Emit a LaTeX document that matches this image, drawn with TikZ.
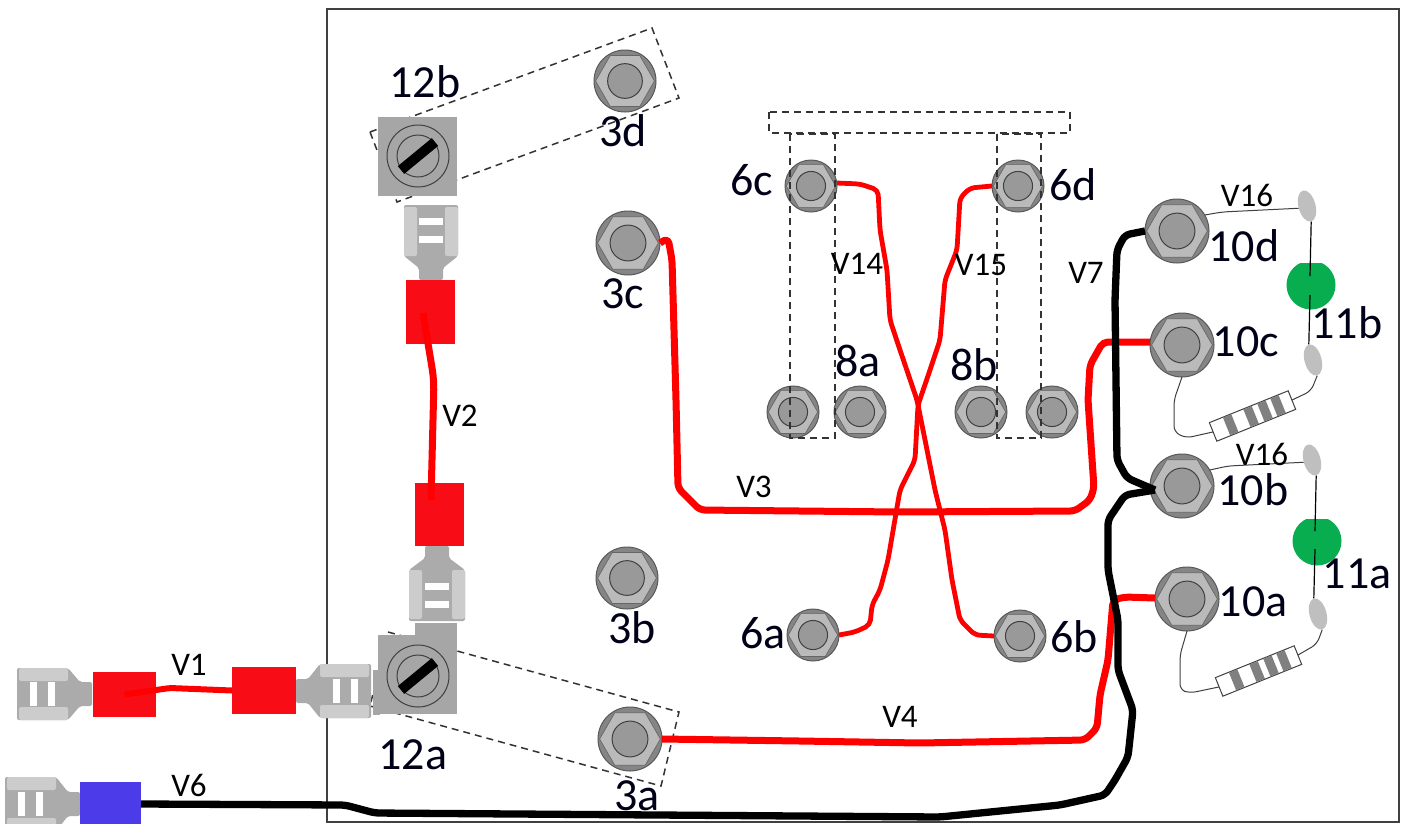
\documentclass[tikz,border=0pt]{standalone}
\usepackage{fontspec}
\setmainfont{Carlito}
\tikzset{
  x=1pt,y=-1pt,
  bigtxt/.style={font=\fontsize{46}{46}\selectfont,text=black!90!blue,inner sep=0pt},
  smalltxt/.style={font=\fontsize{33}{33}\selectfont,inner sep=0pt},
  boltbody/.style={circle,draw=black!65,fill=black!48,line width=1pt,inner sep=0pt,outer sep=0pt},
  redwire/.style={draw=red,line width=7pt,rounded corners=5pt,line join=round},
  thinred/.style={draw=red,line width=4.8pt,rounded corners=5pt,line join=round},
  blackwire/.style={draw=black,line width=7.3pt,rounded corners=5pt,line join=round},
  leadwire/.style={draw=black!75,line width=1pt,rounded corners=6pt},
  legwire/.style={draw=black,line width=1.2pt},
  dashbox/.style={draw=black!80,line width=1.5pt,dash pattern=on 7pt off 5pt},
  crimp/.style={rectangle,inner sep=0pt,outer sep=0pt,fill=#1},
  lens/.style={ellipse,fill=black!25,inner sep=0pt,minimum width=17pt,minimum height=32pt},
  screwsq/.style={rectangle,fill=black!35,inner sep=0pt,minimum width=79pt,minimum height=79pt},
}
\definecolor{crimpred}{HTML}{F80D16}
\definecolor{crimpblue}{HTML}{4B3BE8}
\definecolor{ledgreen}{HTML}{07AD4E}
\usetikzlibrary{shapes.geometric,calc}
\newcommand{\boltat}[4]{% name, x, y, r
  \node[boltbody,minimum size=#4*2pt] (#1) at (#2,#3) {};
  \draw[fill=black!27,draw=black!60,line width=.7pt]
    (#2,#3) ++(0:#4*.95) -- ++(120:#4*.95) -- ++(180:#4*.95) -- ++(240:#4*.95) -- ++(300:#4*.95) -- ++(0:#4*.95) -- cycle;
  \draw[fill=black!40,draw=black!75,line width=1pt] (#2,#3) circle[radius=#4*.56];
}
\newcommand{\spadeat}[4]{% x, y, angle, halfwidth
  \begin{scope}[shift={(#1,#2)},rotate=#3]
    \fill[black!33,rounded corners=2pt] (0,-12) -- (12,-12) -- (24,-#4) -- (75,-#4) -- (75,#4) -- (24,#4) -- (12,12) -- (0,12) -- cycle;
    \fill[black!20,rounded corners=2pt] (24,-#4) rectangle (73,-#4+13);
    \fill[black!20,rounded corners=2pt] (24,#4) rectangle (73,#4-13);
    \fill[white] (37,-12) rectangle (44,12);
    \fill[white] (55,-12) rectangle (62,12);
  \end{scope}
}
\newcommand{\screwat}[2]{% x, y
  \draw[black!75,line width=1pt] (#1,#2) circle[radius=31];
  \draw[black!75,line width=1pt] (#1,#2) circle[radius=21];
  \draw[black,line width=10pt] ($(#1,#2)+(-17,14)$) -- ($(#1,#2)+(17,-14)$);
}
\newcommand{\resistorat}[3]{% name, x, y
  \node[rectangle,rotate=22,fill=white,draw=black!75,line width=1pt,minimum width=85pt,minimum height=20pt,inner sep=0pt,outer sep=0pt] (#1) at (#2,#3) {};
  \begin{scope}[shift={(#2,#3)},rotate=22]
    \foreach \u in {-23.5,-1.5,13.5,27.5}{
      \fill[black!50] (\u-4.5,-9.5) rectangle (\u+4.5,9.5);
    }
  \end{scope}
}
\newcommand{\ledat}[2]{% x, y
  \begin{scope}
    \clip (#1-30,#2-22) rectangle (#1+30,#2+30);
    \fill[ledgreen] (#1,#2) circle[radius=24.5];
  \end{scope}
}
\begin{document}
\begin{tikzpicture}
\useasboundingbox (0,0) rectangle (1406,823);
\clip (0,0) rectangle (1406,823);
\fill[white] (0,0) rectangle (1406,823);
% board
\node[rectangle,draw=black!75,line width=1.2pt,inner sep=0pt,minimum width=1072pt,minimum height=813pt] (board) at (863,415.5) {};
% dashed brackets behind the screw terminals
\draw[dashbox] (370,132) -- (652,28) -- (679,98) -- (397,202) -- cycle;
\draw[dashbox] (388,632) -- (679,712) -- (661,786) -- (370,706) -- cycle;
% spade terminals
\spadeat{92}{694}{180}{26}
\spadeat{296}{691}{0}{27}
\spadeat{80}{804}{180}{27}
\spadeat{431}{280}{90}{27}
\spadeat{437}{546}{-90}{28}
% screw terminal blocks
\fill[black!35] (373,670) rectangle (380,715);
\fill[black!35] (415,623) rectangle (457,640);
\node[screwsq] (s12b) at (417.5,156) {};
\node[screwsq] (s12a) at (417.5,674) {};
\screwat{418}{156}
\screwat{418}{676}
% crimps
\node[crimp=crimpred,minimum width=63pt,minimum height=45pt] (c1a) at (124.5,694.5) {};
\node[crimp=crimpred,minimum width=64pt,minimum height=47pt] (c1b) at (264,690.5) {};
\node[crimp=crimpblue,minimum width=61pt,minimum height=44pt] (c6) at (110.5,804) {};
\node[crimp=crimpred,minimum width=49pt,minimum height=64pt] (c2a) at (430.5,312) {};
\node[crimp=crimpred,minimum width=49pt,minimum height=63pt] (c2b) at (439,514.5) {};
% bolts
\boltat{b3d}{625}{81}{31}
\boltat{b3c}{628}{243}{32}
\boltat{b3b}{627}{578}{31}
\boltat{b3a}{630}{739}{32}
\boltat{b6c}{811}{186}{26}
\boltat{b6d}{1018}{186}{26}
\boltat{b6a}{813}{635}{26}
\boltat{b6b}{1020}{636}{26}
\boltat{b8a}{793}{412}{26}
\boltat{b8b}{860}{412}{26}
\boltat{b8c}{981}{412}{26}
\boltat{b8d}{1052}{412}{26}
\boltat{b10d}{1177}{231}{32}
\boltat{b10c}{1182}{345}{32}
\boltat{b10b}{1182}{486}{32}
\boltat{b10a}{1187}{599}{32}
% dashed frames
\draw[dashbox] (769,112) rectangle (1070,133);
\draw[dashbox] (790,134) rectangle (835,438);
\draw[dashbox] (997,134) rectangle (1041,438);
% LEDs
\ledat{1311}{285}
\ledat{1317}{541}
\node[lens,rotate=15] (l1) at (1307,206) {};
\node[lens,rotate=15] (l2) at (1313,360) {};
\node[lens,rotate=15] (l3) at (1312,460) {};
\node[lens,rotate=15] (l4) at (1318,614) {};
\draw[legwire] (l1.south) -- (1310,276);
\draw[legwire] (1310,295) -- (l2.north);
\draw[legwire] (l3.south) -- (1315,531);
\draw[legwire] (1315,549) -- (l4.north);
% resistors
\resistorat{r1}{1252.5}{416}
\resistorat{r2}{1258.5}{671}
\draw[leadwire] (b10c.south) -- (1174,400) -- (1174,432) -- (1186,438) -- (r1.west);
\draw[leadwire] (r1.east) -- (1311,391) -- (l2.south);
\draw[leadwire] (b10a.south) -- (1180,655) -- (1180,690) -- (1190,693) -- (r2.west);
\draw[leadwire] (r2.east) -- (1317,644) -- (l4.south);
\draw[leadwire] (b10d.30) -- (1222,212) -- (l1.west);
\draw[leadwire] (b10b.30) -- (1228,466) -- (l3.west);
% wires
\coordinate (j) at (1155,490);
\draw[thinred,rounded corners=3pt,line width=6pt] (c1a.center) -- (170,688) -- (c1b.west);
\draw[redwire,rounded corners=10pt] (423,313) -- (434,380) -- (431,500);
\draw[redwire] (b3c.east) -- (668,238) -- (672,260) -- (676,400) -- (678,488) -- (700,510) -- (900,512) -- (1075,511) -- (1090,500) -- (1094,488) -- (1088,400) -- (1090,365) -- (1103,342) -- (b10c.west |- 0,342);
\draw[redwire] (b3a.east) -- (800,741) -- (920,743) -- (1085,740) -- (1097,728) -- (1100,695) -- (1108,660) -- (1113,600) -- (1125,597) -- (b10a.west |- 0,598);
\draw[thinred] (b6c.east |- 0,183) -- (860,184) -- (878,190) -- (880,230) -- (887,270) -- (890,320) -- (900,350) -- (917,400) -- (925,440) -- (935,490) -- (945,530) -- (952,580) -- (960,620) -- (975,635) -- (b6b.west);
\draw[thinred] (b6d.west) -- (970,188) -- (960,198) -- (957,250) -- (945,280) -- (940,340) -- (930,370) -- (918,405) -- (915,460) -- (900,490) -- (888,560) -- (880,590) -- (872,605) -- (870,625) -- (855,632) -- (b6a.east);
\draw[blackwire] (c6.east) -- (345,805) -- (375,813) -- (940,817) -- (1060,805) -- (1105,795) -- (1115,780) -- (1128,757) -- (1133,710) -- (1118,670) -- (1118,620) -- (1108,570) -- (1108,520) -- (1125,495) -- (j);
\draw[blackwire] (b10d.west) -- (1125,235) -- (1117,250) -- (1115,300) -- (1117,460) -- (1127,478) -- (j);
% big labels
\node[bigtxt] (t12b) at (425,82) {12b};
\node[bigtxt] (t3d) at (623,131) {3d};
\node[bigtxt] (t3c) at (623,294) {3c};
\node[bigtxt] (t3b) at (632,628) {3b};
\node[bigtxt] (t3a) at (637,796) {3a};
\node[bigtxt] (t12a) at (413,755) {12a};
\node[bigtxt] (t6c) at (752,180) {6c};
\node[bigtxt] (t6d) at (1073,185) {6d};
\node[bigtxt] (t6a) at (763,633) {6a};
\node[bigtxt] (t6b) at (1074,637) {6b};
\node[bigtxt] (t8a) at (858,361) {8a};
\node[bigtxt] (t8b) at (974,365) {8b};
\node[bigtxt] (t10d) at (1244,246) {10d};
\node[bigtxt] (t10c) at (1246,342) {10c};
\node[bigtxt] (t10b) at (1253,490) {10b};
\node[bigtxt] (t10a) at (1253,602) {10a};
\node[bigtxt] (t11b) at (1347,323) {11b};
\node[bigtxt] (t11a) at (1357,574) {11a};
% wire labels
\node[smalltxt] (v1) at (189,665) {V1};
\node[smalltxt] (v6) at (189,785) {V6};
\node[smalltxt] (v2) at (460,416) {V2};
\node[smalltxt] (v3) at (754,487) {V3};
\node[smalltxt] (v4) at (900,717) {V4};
\node[smalltxt] (v7) at (1086,273) {V7};
\node[smalltxt] (v14) at (857,264) {V14};
\node[smalltxt] (v15) at (981,265) {V15};
\node[smalltxt] (v16a) at (1247,195) {V16};
\node[smalltxt] (v16b) at (1262,454) {V16};
\end{tikzpicture}
\end{document}
